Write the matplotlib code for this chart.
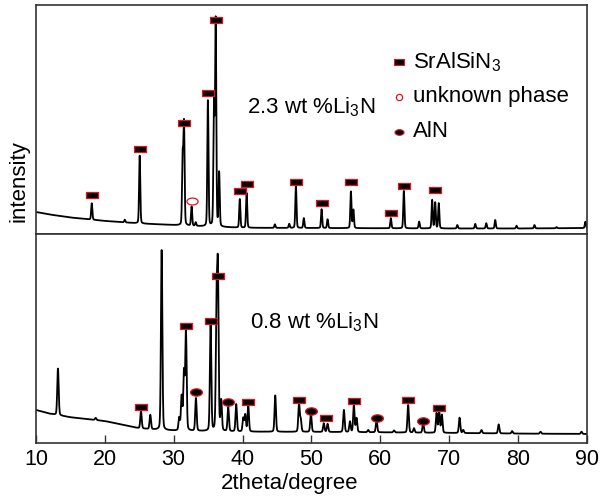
import numpy as np
import matplotlib
matplotlib.use("Agg")
import matplotlib.pyplot as plt
from matplotlib.path import Path

plt.rcParams['font.family'] = ['Liberation Sans', 'DejaVu Sans']
plt.rcParams['mathtext.fontset'] = 'custom'
plt.rcParams['mathtext.rm'] = 'Liberation Sans'
plt.rcParams['mathtext.it'] = 'Liberation Sans:italic'

# ---------------- data ----------------
# 2.3 wt% Li3N pattern (upper panel)
top_bg_x = [10, 12, 15, 20, 25, 30, 35, 40, 50, 60, 70, 80, 90]
top_bg_y = [9.6, 8.5, 7.2, 5.7, 4.6, 3.9, 3.2, 2.7, 2.6, 2.5, 2.4, 2.4, 2.6]
top_peak_pos = [18.1, 22.9, 25.06, 31.3, 31.5, 32.6, 33.2, 34.97, 35.85, 36.1, 36.6,
                39.6, 40.59, 44.7, 46.78, 47.75, 48.9, 51.48, 52.35, 55.74, 56.1,
                61.54, 63.43, 65.65, 67.54, 67.98, 68.5, 71.2, 73.8, 75.4, 76.7,
                79.8, 82.4, 85.6, 89.8]
top_peak_top = [13.4, 6.2, 34.2, 33.0, 47.6, 11.9, 5.0, 58.5, 58.0, 92.7, 26.5,
                15.2, 18.0, 4.2, 4.4, 21.0, 6.9, 10.8, 6.4, 18.5, 10.5,
                6.9, 18.9, 5.4, 14.8, 13.7, 13.4, 3.9, 4.4, 4.7, 6.1,
                3.6, 3.9, 3.0, 5.4]
top_sr_x = [18.1, 25.06, 31.5, 35.0, 36.1, 39.6, 40.6, 47.75, 51.5, 55.7, 61.5, 63.4, 68.0]
top_sr_y = [17.2, 37.2, 48.6, 61.4, 93.4, 18.9, 22.0, 22.8, 13.7, 22.8, 9.0, 21.1, 19.3]
top_unk_x = [32.6]
top_unk_y = [14.5]

# 0.8 wt% Li3N pattern (lower panel)
bot_bg_x = [10, 12, 15, 20, 25, 28, 30, 35, 40, 50, 60, 70, 80, 90]
bot_bg_y = [15.8, 14.0, 12.3, 10.5, 7.0, 6.2, 5.9, 5.6, 5.4, 5.3, 5.1, 4.8, 4.5, 4.3]
bot_peak_pos = [13.19, 18.67, 25.25, 26.6, 28.25, 30.8, 31.15, 31.49, 31.78, 33.23,
                35.36, 36.22, 36.42, 36.9, 37.92, 39.08, 40.1, 40.39, 40.83, 44.75,
                48.2, 48.45, 49.93, 51.8, 52.35, 54.72, 55.6, 56.17, 56.56, 58.25,
                59.46, 62.0, 64.05, 64.9, 66.23, 68.18, 68.56, 68.95, 71.52, 72.05,
                74.7, 77.2, 79.16, 83.28, 89.23]
bot_peak_top = [35.7, 12.0, 15.3, 13.4, 92.7, 11.8, 22.0, 33.3, 53.3, 21.4,
                57.3, 62.0, 78.8, 19.8, 17.0, 18.5, 11.8, 13.4, 17.8, 22.8,
                19.0, 11.0, 14.2, 9.4, 9.1, 15.8, 10.2, 18.2, 11.8, 6.2,
                11.0, 6.0, 18.2, 7.0, 9.4, 14.2, 15.0, 13.4, 12.1, 6.2,
                6.2, 8.9, 5.7, 5.4, 5.4]
bot_sr_x = [25.2, 31.8, 35.35, 36.4, 40.85, 48.2, 52.1, 56.2, 64.05, 68.6]
bot_sr_y = [17.4, 55.8, 58.4, 79.8, 19.5, 20.6, 11.8, 20.1, 20.6, 16.6]
bot_aln_x = [33.2, 37.9, 49.95, 59.5, 66.2]
bot_aln_y = [24.5, 19.6, 15.3, 12.1, 10.7]

x_ticks = [10, 20, 30, 40, 50, 60, 70, 80, 90]
label_top = "2.3 wt %Li$_{\\mathregular{3}}$N"
label_bot = "0.8 wt %Li$_{\\mathregular{3}}$N"
legend_labels = ["SrAlSiN$_{\\mathregular{3}}$", "unknown phase", "AlN"]


# ---------------- profile builder ----------------
def pattern(grid, bg_x, bg_y, pos, tops, fwhm):
    base = np.interp(grid, bg_x, bg_y)
    y = base.copy()
    sig = fwhm / 2.3548
    for p, t in zip(pos, tops):
        h = t - np.interp(p, bg_x, bg_y)
        g = np.exp(-0.5 * ((grid - p) / sig) ** 2)
        l = 1.0 / (1.0 + ((grid - p) / (fwhm / 2)) ** 2)
        y += h * (0.8 * g + 0.2 * l)
    return y


grid = np.arange(10, 90.0001, 0.02)
y_top = pattern(grid, top_bg_x, top_bg_y, top_peak_pos, top_peak_top, 0.2)
y_bot = pattern(grid, bot_bg_x, bot_bg_y, bot_peak_pos, bot_peak_top, 0.24)

# marker shapes
rect = Path([(-1, -0.6), (1, -0.6), (1, 0.6), (-1, 0.6), (-1, -0.6)],
            [Path.MOVETO, Path.LINETO, Path.LINETO, Path.LINETO, Path.CLOSEPOLY])
ang = np.linspace(0, 2 * np.pi, 41)
ell = Path(np.column_stack([np.cos(ang), 0.62 * np.sin(ang)]), closed=True)

RED = '#e0141e'

fig = plt.figure(figsize=(6.0, 4.97), dpi=100)
ax1 = fig.add_axes([0.06, 0.5292, 0.918, 0.4608])
ax2 = fig.add_axes([0.06, 0.1087, 0.918, 0.4205])

for ax in (ax1, ax2):
    ax.set_xlim(10, 90)
    ax.set_ylim(0, 100)
    ax.set_yticks([])
    for s in ax.spines.values():
        s.set_color('#333333')
        s.set_linewidth(1.2)

ax1.plot(grid, y_top, color='black', lw=1.3)
ax2.plot(grid, y_bot, color='black', lw=1.3)

ax1.set_xticks([])
ax2.set_xticks(x_ticks)
ax2.tick_params(axis='x', direction='in', length=6, width=1.0, pad=4,
                labelsize=15.5, color='#333333')

# peak markers
ax1.plot(top_sr_x, top_sr_y, ls='none', marker=rect, ms=8, mfc='black', mec=RED, mew=0.9)
ax1.plot(top_unk_x, top_unk_y, ls='none', marker=ell, ms=8, mfc='none', mec=RED, mew=0.9)
ax2.plot(bot_sr_x, bot_sr_y, ls='none', marker=rect, ms=8, mfc='black', mec=RED, mew=0.9)
ax2.plot(bot_aln_x, bot_aln_y, ls='none', marker=ell, ms=8.5, mfc='black', mec=RED, mew=0.9)

# sample labels
ax1.text(0.383, 0.553, label_top, transform=ax1.transAxes, fontsize=16, va='center', ha='left')
ax2.text(0.388, 0.578, label_bot, transform=ax2.transAxes, fontsize=16, va='center', ha='left')

# legend (manual)
leg_y = [0.752, 0.599, 0.446]
ax1.plot([0.659], [leg_y[0]], transform=ax1.transAxes, marker=rect, ms=6.5,
         mfc='black', mec=RED, mew=0.8, ls='none')
ax1.plot([0.659], [leg_y[1]], transform=ax1.transAxes, marker='o', ms=4.5,
         mfc='none', mec=RED, mew=0.9, ls='none')
ax1.plot([0.659], [leg_y[2]], transform=ax1.transAxes, marker=ell, ms=6.5,
         mfc='black', mec=RED, mew=0.8, ls='none')
for yy, lab in zip(leg_y, legend_labels):
    ax1.text(0.684, yy, lab, transform=ax1.transAxes, fontsize=16, va='center', ha='left')

fig.text(0.483, 1 - 483 / 497, "2theta/degree", fontsize=16, ha='center', va='center')
fig.text(0.032, 1 - 181.5 / 497, "intensity", fontsize=16, ha='center', va='center',
         rotation=90)

fig.savefig("out.png", dpi=100)
